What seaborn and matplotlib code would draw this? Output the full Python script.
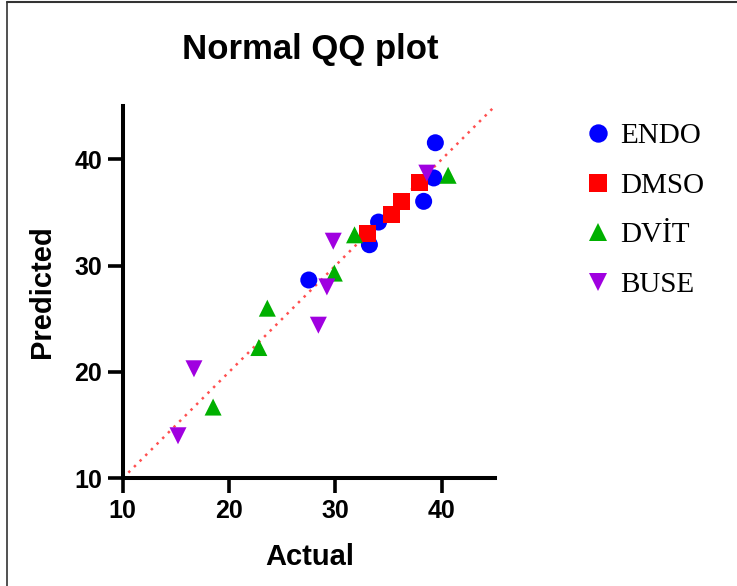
import matplotlib
matplotlib.use("Agg")
import matplotlib.pyplot as plt
import seaborn as sns
import pandas as pd
from matplotlib.lines import Line2D

groups = ["ENDO", "DMSO", "DVİT", "BUSE"]
endo_actual = [39.4, 39.25, 38.3, 34.06, 33.2, 27.5]
endo_pred = [41.56, 38.25, 36.05, 34.1, 31.97, 28.65]
dmso_actual = [37.9, 36.2, 35.3, 33.0]
dmso_pred = [37.8, 36.0, 34.8, 33.0]
dvit_actual = [40.6, 31.8, 29.9, 23.6, 22.8, 18.5]
dvit_pred = [38.5, 32.9, 29.3, 26.0, 22.3, 16.7]
buse_actual = [38.6, 29.8, 29.2, 28.4, 16.7, 15.2]
buse_pred = [38.7, 32.3, 28.0, 24.4, 20.3, 14.0]
x_ticks = [10, 20, 30, 40]
y_ticks = [10, 20, 30, 40]
colors = ["#0000ff", "#ff0000", "#00b000", "#a000e0"]
marks = ["o", "s", "^", "v"]

rows = []
for g, xs, ys in zip(groups,
                     [endo_actual, dmso_actual, dvit_actual, buse_actual],
                     [endo_pred, dmso_pred, dvit_pred, buse_pred]):
    for a, p in zip(xs, ys):
        rows.append({"Actual": a, "Predicted": p, "group": g})
df = pd.DataFrame(rows)

sns.set_style("ticks")
plt.rcParams["font.family"] = ["Liberation Sans", "DejaVu Sans"]
plt.rcParams["text.color"] = "black"
plt.rcParams["axes.labelcolor"] = "black"
plt.rcParams["xtick.color"] = "black"
plt.rcParams["ytick.color"] = "black"

fig = plt.figure(figsize=(7.37, 5.86), dpi=100)
ax = fig.add_axes([0.1665, 0.1838, 0.505, 0.635])

ax.plot([10, 45], [10, 45], linestyle=(0, (1, 2.2)), color="#ff5050", lw=1.8, zorder=1)

sns.scatterplot(data=df, x="Actual", y="Predicted", hue="group", style="group",
                hue_order=groups, style_order=groups,
                palette=dict(zip(groups, colors)), markers=dict(zip(groups, marks)),
                s=150, edgecolor="none", linewidth=0, ax=ax, zorder=3)

ax.set_xlim(10, 45)
ax.set_ylim(10, 45)
ax.set_xticks(x_ticks)
ax.set_yticks(y_ticks)
for sp in ["top", "right"]:
    ax.spines[sp].set_visible(False)
for sp in ["left", "bottom"]:
    ax.spines[sp].set_linewidth(2.9)
    ax.spines[sp].set_color("black")
ax.tick_params(axis="both", direction="out", length=11, width=2.6, labelsize=18,
               pad=4, colors="black")
for lab in ax.get_xticklabels() + ax.get_yticklabels():
    lab.set_fontweight("bold")
ax.set_xlabel("Actual", fontsize=21, fontweight="bold")
ax.set_ylabel("Predicted", fontsize=21, fontweight="bold")
ax.xaxis.label.set_va("center")
ax.yaxis.label.set_va("center")
ax.xaxis.set_label_coords(0.502, -0.212)
ax.yaxis.set_label_coords(-0.217, 0.502)
fig.text(0.4206, 1 - 59 / 586, "Normal QQ plot", ha="center", va="baseline",
         fontsize=25, fontweight="bold")

h, l = ax.get_legend_handles_labels()
ax.legend(h, l, loc="upper left", bbox_to_anchor=(0.756, 0.835),
          bbox_transform=fig.transFigure, frameon=False, handletextpad=0.25,
          handlelength=1.0, labelspacing=0.79, markerscale=1.08, borderpad=0.4,
          prop={"family": ["Liberation Serif", "DejaVu Serif"], "size": 21})

fig.add_artist(Line2D([6.5 / 737, 6.5 / 737], [0, 1 - 2 / 586], transform=fig.transFigure,
                      color="#333333", lw=1.2))
fig.add_artist(Line2D([6.5 / 737, 1], [1 - 2 / 586, 1 - 2 / 586], transform=fig.transFigure,
                      color="#333333", lw=1.5))

fig.savefig("out.png", dpi=100)
